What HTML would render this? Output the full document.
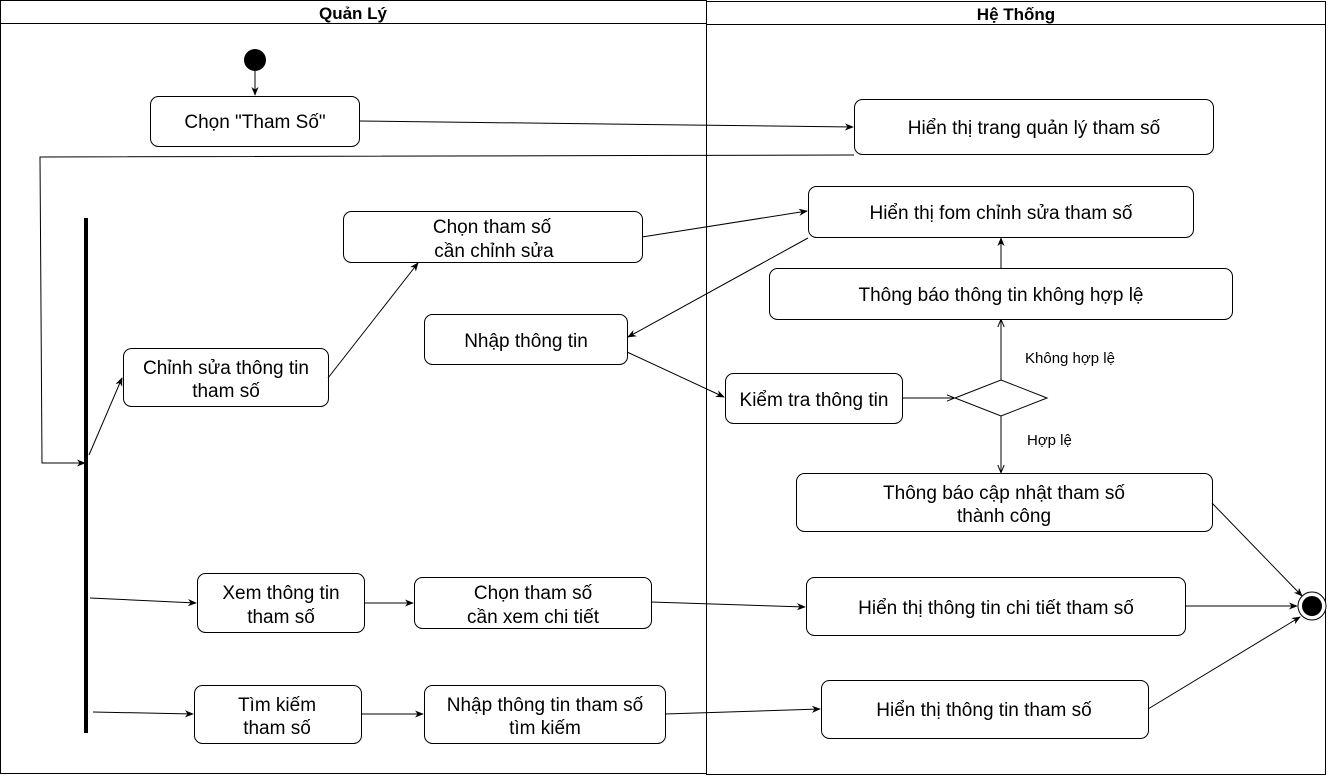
<!DOCTYPE html>
<html><head><meta charset="utf-8"><style>
html,body{margin:0;padding:0;background:#fff;}
svg{display:block;font-family:"Liberation Sans",Arial,sans-serif;}
</style></head><body>
<svg width="1328" height="776" viewBox="0 0 1328 776" xmlns="http://www.w3.org/2000/svg">
<defs>
<marker id="a" viewBox="0 0 10 10" refX="9" refY="5" markerWidth="9" markerHeight="9" orient="auto"><path d="M0,1 L10,5 L0,9 L3,5 Z" fill="#000"/></marker>
<marker id="o" viewBox="0 0 10 10" refX="9" refY="5" markerWidth="8" markerHeight="8" orient="auto"><path d="M0,1 L10,5 L0,9" fill="none" stroke="#000" stroke-width="1.2"/></marker>
</defs>
<g fill="none" stroke="#000" stroke-width="1">
<rect x="0.5" y="0.5" width="706" height="773"/>
<line x1="0" y1="23.5" x2="706" y2="23.5"/>
<rect x="706.5" y="1.5" width="619" height="773"/>
<line x1="706" y1="24.5" x2="1326" y2="24.5"/>
</g>
<g font-size="17" font-weight="bold" text-anchor="middle">
<text x="353" y="19">Quản Lý</text>
<text x="1016" y="20">Hệ Thống</text>
</g>
<circle cx="255" cy="60" r="11" fill="#000"/>
<circle cx="1312" cy="606" r="14" fill="#fff" stroke="#000"/>
<circle cx="1312" cy="606" r="10" fill="#000"/>
<rect x="84" y="218" width="4" height="515" fill="#000"/>
<g fill="#fff" stroke="#000" stroke-width="1">
<rect x="150.5" y="96.5" width="209" height="50" rx="8"/>
<rect x="854.5" y="99.5" width="359" height="55" rx="8"/>
<rect x="343.5" y="211.5" width="299" height="51" rx="8"/>
<rect x="808.5" y="186.5" width="385" height="51" rx="8"/>
<rect x="769.5" y="268.5" width="463" height="51" rx="8"/>
<rect x="424.5" y="314.5" width="203" height="50" rx="8"/>
<rect x="123.5" y="348.5" width="205" height="58" rx="8"/>
<rect x="725.5" y="373.5" width="177" height="50" rx="8"/>
<polygon points="955,398 1001,380 1047,398 1001,416"/>
<rect x="796.5" y="473.5" width="416" height="58" rx="8"/>
<rect x="197.5" y="573.5" width="167" height="59" rx="8"/>
<rect x="414.5" y="577.5" width="237" height="51" rx="8"/>
<rect x="806.5" y="577.5" width="379" height="58" rx="8"/>
<rect x="194.5" y="685.5" width="167" height="58" rx="8"/>
<rect x="424.5" y="685.5" width="241" height="58" rx="8"/>
<rect x="821.5" y="680.5" width="327" height="58" rx="8"/>
</g>
<g fill="none" stroke="#000" stroke-width="1" marker-end="url(#a)">
<line x1="255" y1="71" x2="255" y2="95"/>
<line x1="359" y1="121" x2="853" y2="127"/>
<polyline points="854,155 40,157 42,463 85,463"/>
<line x1="89" y1="455" x2="122" y2="378"/>
<line x1="328" y1="378" x2="418" y2="263"/>
<line x1="642" y1="237" x2="807" y2="211"/>
<line x1="808" y1="238" x2="628" y2="337"/>
<line x1="627" y1="352" x2="724" y2="397"/>
<line x1="1001" y1="268" x2="1001" y2="238"/>
<line x1="1212" y1="503" x2="1302" y2="596"/>
<line x1="90" y1="598" x2="196" y2="603"/>
<line x1="364" y1="603" x2="413" y2="603"/>
<line x1="651" y1="602" x2="805" y2="607"/>
<line x1="1185" y1="606" x2="1297" y2="606"/>
<line x1="93" y1="712" x2="193" y2="714"/>
<line x1="361" y1="714" x2="423" y2="714"/>
<line x1="665" y1="714" x2="820" y2="709"/>
<line x1="1148" y1="709" x2="1300" y2="617"/>
</g>
<g fill="none" stroke="#000" stroke-width="1" marker-end="url(#o)">
<line x1="902" y1="398" x2="954" y2="398"/>
<line x1="1001" y1="380" x2="1001" y2="320"/>
<line x1="1001" y1="416" x2="1001" y2="472"/>
</g>
<g font-size="19" text-anchor="middle" fill="#000">
<text x="255" y="128">Chọn "Tham Số"</text>
<text x="1034" y="134">Hiển thị trang quản lý tham số</text>
<text x="492" y="233">Chọn tham số</text>
<text x="494" y="257">cần chỉnh sửa</text>
<text x="1001" y="219">Hiển thị fom chỉnh sửa tham số</text>
<text x="1001" y="301">Thông báo thông tin không hợp lệ</text>
<text x="526" y="347">Nhập thông tin</text>
<text x="226" y="374">Chỉnh sửa thông tin</text>
<text x="226" y="397">tham số</text>
<text x="814" y="406">Kiểm tra thông tin</text>
<text x="1004" y="499">Thông báo cập nhật tham số</text>
<text x="1004" y="522">thành công</text>
<text x="281" y="599">Xem thông tin</text>
<text x="281" y="623">tham số</text>
<text x="533" y="599">Chọn tham số</text>
<text x="533" y="623">cần xem chi tiết</text>
<text x="996" y="614">Hiển thị thông tin chi tiết tham số</text>
<text x="277" y="711">Tìm kiếm</text>
<text x="277" y="734">tham số</text>
<text x="545" y="711">Nhập thông tin tham số</text>
<text x="545" y="734">tìm kiếm</text>
<text x="984" y="716">Hiển thị thông tin tham số</text>
</g>
<g font-size="15" fill="#000">
<text x="1025" y="363">Không hợp lệ</text>
<text x="1027" y="445">Hợp lệ</text>
</g>
</svg>
</body></html>
